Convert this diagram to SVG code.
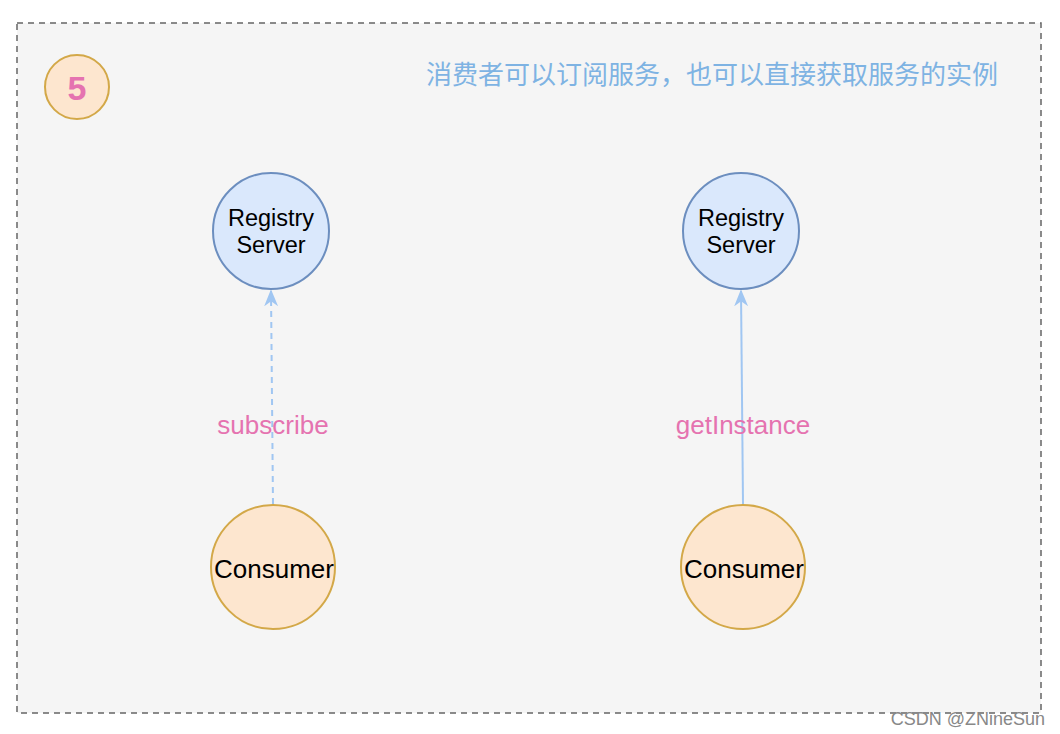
<svg xmlns="http://www.w3.org/2000/svg" width="1060" height="734" viewBox="0 0 1060 734">
<defs>
<style>
.frame{fill:#f5f5f5;stroke:#666;stroke-width:1.5;stroke-dasharray:6 5}
.reg{fill:#dae8fc;stroke:#6c8ebf;stroke-width:2}
.con{fill:#fde6cf;stroke:#d3a848;stroke-width:2}
.t{font-family:"Liberation Sans",Arial,sans-serif;fill:#000;text-anchor:middle}
.lbl{font-family:"Liberation Sans",Arial,sans-serif;fill:#e573b0;text-anchor:middle;font-size:26px}
.edge{stroke:#a0c6f2;stroke-width:2;fill:none}
</style>
<marker id="arr" viewBox="0 0 10 10" refX="9" refY="5" markerWidth="17" markerHeight="14" markerUnits="userSpaceOnUse" orient="auto" preserveAspectRatio="none">
<path d="M0,0 L10,5 L0,10 L3,5 Z" fill="#a0c6f2"/>
</marker>
</defs>
<rect width="1060" height="734" fill="#fff"/>
<rect class="frame" x="17" y="23" width="1024" height="690"/>
<g id="badge">
<circle cx="77" cy="87" r="32" class="con"/>
<text x="77" y="100" class="t" style="font-size:34px;font-weight:bold;fill:#e573b0">5</text>
</g>
<g id="title">
<text x="712" y="84" style="font-family:'Noto Sans CJK SC',sans-serif;font-size:26px;fill:#7eb3e3;text-anchor:middle">消费者可以订阅服务，也可以直接获取服务的实例</text>
</g>
<g id="connectors">
<line class="edge" x1="273" y1="504" x2="271" y2="291" stroke-dasharray="6 5" marker-end="url(#arr)"/>
<line class="edge" x1="743" y1="504" x2="741" y2="291" marker-end="url(#arr)"/>
<text x="273" y="434" class="lbl">subscribe</text>
<text x="743" y="434" class="lbl">getInstance</text>
</g>
<g id="registry1">
<circle cx="271" cy="231" r="58" class="reg"/>
<text x="271" y="226" class="t" style="font-size:23.5px">Registry</text>
<text x="271" y="253" class="t" style="font-size:23.5px">Server</text>
</g>
<g id="registry2">
<circle cx="741" cy="231" r="58" class="reg"/>
<text x="741" y="226" class="t" style="font-size:23.5px">Registry</text>
<text x="741" y="253" class="t" style="font-size:23.5px">Server</text>
</g>
<g id="consumer1">
<circle cx="273" cy="567" r="62" class="con"/>
<text x="274" y="578" class="t" style="font-size:26px">Consumer</text>
</g>
<g id="consumer2">
<circle cx="743" cy="567" r="62" class="con"/>
<text x="744" y="578" class="t" style="font-size:26px">Consumer</text>
</g>
<g id="watermark">
<text x="1045" y="725" style="font-family:'Liberation Sans',Arial,sans-serif;font-size:18px;fill:#888;text-anchor:end">CSDN @ZNineSun</text>
</g>
</svg>
